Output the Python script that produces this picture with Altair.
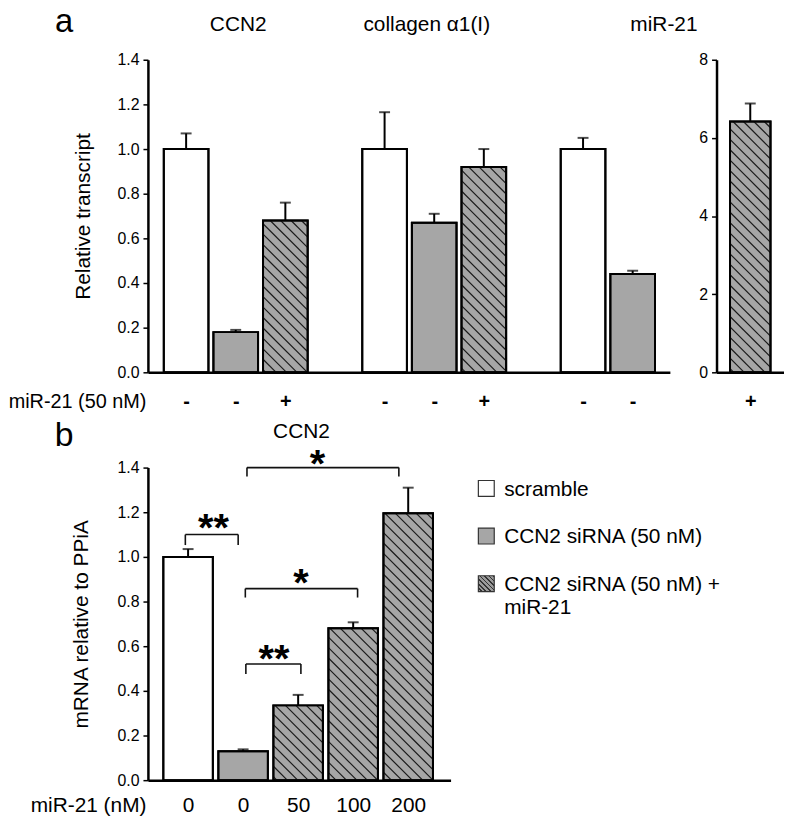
import altair as alt
import pandas as pd

FONT = "Liberation Sans"

# ---------------- data: panel a ----------------
a_genes = ["CCN2", "collagen α1(I)", "miR-21"]
a_gene = ["CCN2", "CCN2", "CCN2", "collagen α1(I)", "collagen α1(I)", "collagen α1(I)", "miR-21", "miR-21"]
a_cond = ["scramble", "siRNA", "siRNA+miR-21", "scramble", "siRNA", "siRNA+miR-21", "scramble", "siRNA"]
a_mean = [1.00, 0.18, 0.68, 1.00, 0.67, 0.92, 1.00, 0.44]
a_err = [0.07, 0.01, 0.08, 0.165, 0.04, 0.08, 0.05, 0.015]
a_sign = ["-", "-", "+", "-", "-", "+", "-", "-"]
a_title_pos = [1.05, 4.85, 9.63]          # group title centres (slot units)

# miR-21 fold change (right sub-panel of a)
ar_cond = ["siRNA+miR-21"]
ar_mean = [6.42]
ar_err = [0.46]
ar_sign = ["+"]

# ---------------- data: panel b ----------------
b_dose = ["0", "0", "50", "100", "200"]
b_cond = ["scramble", "siRNA", "siRNA+miR-21", "siRNA+miR-21", "siRNA+miR-21"]
b_mean = [1.00, 0.13, 0.335, 0.68, 1.195]
b_err = [0.035, 0.008, 0.047, 0.027, 0.115]

sig_x1 = [-0.05, 1.07, 1.04, 1.05]
sig_x2 = [0.91, 3.83, 3.08, 2.05]
sig_top = [1.10, 1.40, 0.858, 0.52]
sig_low = [1.053, 1.36, 0.818, 0.476]
sig_text = ["**", "*", "*", "**"]
sig_tx = [0.46, 2.35, 2.05, 1.56]
sig_ty = [1.173, 1.462, 0.929, 0.587]

leg_keys = ["scramble", "siRNA", "siRNA+miR-21"]
leg_labels = ["scramble", "CCN2 siRNA (50 nM)", "CCN2 siRNA (50 nM) +\nmiR-21"]

# ---------------- layout / style ----------------
A_W, A_H, A_XDOM, A_YDOM = 526, 315, [-0.77, 9.75], [0, 1.4]
AR_W, AR_XDOM, AR_YDOM = 68, [-0.75, 0.75], [0, 8]
B_W, B_H, B_XDOM, B_YDOM = 305, 315, [-0.73, 4.77], [0, 1.4]
LEG_W, LEG_H = 68, 138
LEG_SQ_X, LEG_TX_X = -232, -214     # legend sits left of its grid cell
HALF = 0.45
HATCH_SPACING = 10.5
FILL = {"scramble": "#ffffff", "siRNA": "#a6a6a6", "siRNA+miR-21": "#a6a6a6"}
HATCHED = "siRNA+miR-21"


def slot_of(gene, cond):
    return a_genes.index(gene) * 4 + ["scramble", "siRNA", "siRNA+miR-21"].index(cond)


def bar_frame(xs, means, errs, conds):
    return pd.DataFrame({
        "xc": xs, "x1": [x - HALF for x in xs], "x2": [x + HALF for x in xs],
        "mean": means, "top": [m + e for m, e in zip(means, errs)],
        "base": [0.0] * len(xs), "fill": [FILL[c] for c in conds], "cond": conds,
    })


def hatch_frame(df, sx, sy):
    rows = []
    for _, r in df[df["cond"] == HATCHED].iterrows():
        L, top = r["x1"], r["mean"]
        w, h = 2 * HALF * sx, top * sy
        c = -w + HATCH_SPACING * 0.6
        while c < h:
            p0, p1 = max(0.0, -c), min(w, h - c)
            if p1 > p0:
                rows.append({"hx1": L + p0 / sx, "hy1": top - (p0 + c) / sy,
                             "hx2": L + p1 / sx, "hy2": top - (p1 + c) / sy})
            c += HATCH_SPACING
    return pd.DataFrame(rows)


def label_expr(values, labels):
    lab = ",".join("'" + s + "'" for s in labels)
    val = ",".join(str(v) for v in values)
    return f"[{lab}][indexof([{val}], datum.value)]"


def bar_panel(df, width, height, xdom, ydom, xaxis, yaxis, extra=()):
    sx = width / (xdom[1] - xdom[0])
    sy = height / (ydom[1] - ydom[0])
    xs = alt.Scale(domain=xdom, nice=False, zero=False)
    ys = alt.Scale(domain=ydom, nice=False)

    def X(f):
        return alt.X(f, scale=xs, axis=xaxis)

    def Y(f):
        return alt.Y(f, scale=ys, axis=yaxis)

    base = alt.Chart(df)
    layers = [base.mark_rect(stroke="black", strokeWidth=2).encode(
        x=X("x1:Q"), x2="x2:Q", y=Y("mean:Q"), y2="base:Q",
        fill=alt.Fill("fill:N", scale=None))]
    hf = hatch_frame(df, sx, sy)
    if len(hf):
        layers.append(alt.Chart(hf).mark_rule(color="#1a1a1a", strokeWidth=1.2).encode(
            x=X("hx1:Q"), x2="hx2:Q", y=Y("hy1:Q"), y2="hy2:Q"))
        layers.append(base.mark_rect(stroke="black", strokeWidth=2, fillOpacity=0).encode(
            x=X("x1:Q"), x2="x2:Q", y=Y("mean:Q"), y2="base:Q"))
    layers.append(base.mark_rule(color="black", strokeWidth=2).encode(
        x=X("xc:Q"), y=Y("mean:Q"), y2="top:Q"))
    layers.append(base.mark_tick(color="black", orient="horizontal", size=11, thickness=2).encode(
        x=X("xc:Q"), y=Y("top:Q")))
    for mk in extra:
        layers.append(mk(X, Y))
    return alt.layer(*layers).properties(width=width, height=height)


def y_axis(values, fmt, title, title_pad):
    return alt.Axis(values=values, format=fmt, grid=False, tickSize=5, tickWidth=1.5,
                    domainWidth=2.5, labelFontSize=16, labelPadding=4, title=title,
                    titleFontSize=21, titleFontWeight="normal", titlePadding=title_pad)


def x_axis(values, labels, bold, size, pad, title=None):
    kw = dict(values=values, labelExpr=label_expr(values, labels), ticks=False, tickSize=0,
              grid=False, domainWidth=2.5, labelFontSize=size,
              labelFontWeight="bold" if bold else "normal", labelBaseline="middle",
              labelPadding=pad, labelAngle=0, labelFlush=False, labelOverlap=False)
    if title:
        kw.update(title=title, titleFontSize=size, titleFontWeight="normal", titleX=-2,
                  titleY=pad, titleAlign="right", titleBaseline="middle")
    else:
        kw.update(title=None)
    return alt.Axis(**kw)


# ---------------- panel a ----------------
a_slots = [slot_of(g, c) for g, c in zip(a_gene, a_cond)]
a_df = bar_frame(a_slots, a_mean, a_err, a_cond)
a_titles = pd.DataFrame({"t": a_genes, "xp": a_title_pos})


def a_titles_layer(X, Y):
    return alt.Chart(a_titles).mark_text(fontSize=21, baseline="alphabetic", align="center").encode(
        x=X("xp:Q"), y=alt.value(-29), text="t:N")


def a_letter(X, Y):
    return alt.Chart(pd.DataFrame({"t": ["a"]})).mark_text(
        fontSize=33, baseline="alphabetic", align="center").encode(
        x=alt.value(-84.5), y=alt.value(-28), text="t:N")


a_main = bar_panel(
    a_df, A_W, A_H, A_XDOM, A_YDOM,
    x_axis(a_slots, a_sign, True, 20, 29, "miR-21 (50 nM)"),
    y_axis([0, 0.2, 0.4, 0.6, 0.8, 1.0, 1.2, 1.4], ".1f", "Relative transcript", 24),
    extra=(a_titles_layer, a_letter),
)

ar_df = bar_frame([0], ar_mean, ar_err, ar_cond)
a_right = bar_panel(
    ar_df, AR_W, A_H, AR_XDOM, AR_YDOM,
    x_axis([0], ar_sign, True, 20, 29),
    y_axis([0, 2, 4, 6, 8], "d", None, 0),
)

# ---------------- panel b ----------------
b_slots = list(range(len(b_dose)))
b_df = bar_frame(b_slots, b_mean, b_err, b_cond)

seg = []
for x1, x2, t, l in zip(sig_x1, sig_x2, sig_top, sig_low):
    seg += [{"sx1": x1, "sx2": x2, "sy1": t, "sy2": t},
            {"sx1": x1, "sx2": x1, "sy1": t, "sy2": l},
            {"sx1": x2, "sx2": x2, "sy1": t, "sy2": l}]
seg_df = pd.DataFrame(seg)
star_df = pd.DataFrame({"t": sig_text, "x": sig_tx, "y": sig_ty})


def b_brackets(X, Y):
    return alt.Chart(seg_df).mark_rule(color="#111111", strokeWidth=1.6).encode(
        x=X("sx1:Q"), x2="sx2:Q", y=Y("sy1:Q"), y2="sy2:Q")


def b_stars(X, Y):
    return alt.Chart(star_df).mark_text(fontSize=40, fontWeight="bold", baseline="alphabetic",
                                        align="center", dy=23).encode(
        x=X("x:Q"), y=Y("y:Q"), text="t:N")


def b_title(X, Y):
    return alt.Chart(pd.DataFrame({"t": ["CCN2"], "xp": [2.06]})).mark_text(
        fontSize=21, baseline="alphabetic", align="center").encode(
        x=X("xp:Q"), y=alt.value(-30), text="t:N")


def b_letter(X, Y):
    return alt.Chart(pd.DataFrame({"t": ["b"]})).mark_text(
        fontSize=34, baseline="alphabetic", align="center").encode(
        x=alt.value(-84.5), y=alt.value(-22), text="t:N")


b_main = bar_panel(
    b_df, B_W, B_H, B_XDOM, B_YDOM,
    x_axis(b_slots, b_dose, False, 21, 26, "miR-21 (nM)"),
    y_axis([0, 0.2, 0.4, 0.6, 0.8, 1.0, 1.2, 1.4], ".1f", "mRNA relative to PPiA", 26),
    extra=(b_brackets, b_stars, b_title, b_letter),
)

# ---------------- legend ----------------
leg_df = pd.DataFrame({"key": leg_keys, "label": leg_labels, "fill": [FILL[k] for k in leg_keys]})
leg_y = alt.Y("key:N", scale=alt.Scale(type="point", domain=leg_keys, padding=0.4375), axis=None)
stops = []
N = 7
for i in range(N):
    stops += [{"offset": i / N, "color": "#9a9a9a"}, {"offset": (i + 0.6) / N, "color": "#9a9a9a"},
              {"offset": (i + 0.6) / N, "color": "#333333"}, {"offset": (i + 1) / N, "color": "#333333"}]
hatch_grad = {"gradient": "linear", "x1": 0, "y1": 1, "x2": 1, "y2": 0, "stops": stops}

leg_plain = alt.Chart(leg_df[leg_df["key"] != HATCHED]).mark_square(
    size=256, filled=True, stroke="#333333", strokeWidth=1.2, opacity=1).encode(
    x=alt.value(LEG_SQ_X), y=leg_y, fill=alt.Fill("fill:N", scale=None))
leg_hatch = alt.Chart(leg_df[leg_df["key"] == HATCHED]).mark_square(
    size=256, filled=True, fill=hatch_grad, stroke="#333333", strokeWidth=1.2, opacity=1).encode(
    x=alt.value(LEG_SQ_X), y=leg_y)
leg_text = alt.Chart(leg_df).mark_text(
    fontSize=21, align="left", baseline="alphabetic", dy=7.5, lineBreak="\n", lineHeight=23).encode(
    x=alt.value(LEG_TX_X), y=leg_y, text="label:N")
legend = alt.layer(leg_plain, leg_hatch, leg_text).properties(width=LEG_W, height=LEG_H)

# ---------------- assemble ----------------
chart = alt.concat(
    a_main, a_right, b_main, legend, columns=2,
    spacing={"row": 96, "column": 47}, bounds="flush",
).properties(
    padding={"left": 0, "top": -5, "right": 0, "bottom": 0}
).configure_view(stroke=None).configure_axis(
    labelFont=FONT, titleFont=FONT, labelColor="black", titleColor="black",
    domainColor="black", tickColor="black"
).configure_text(font=FONT, color="black")

chart.save("out.html", embed_options={"renderer": "svg", "actions": False})
